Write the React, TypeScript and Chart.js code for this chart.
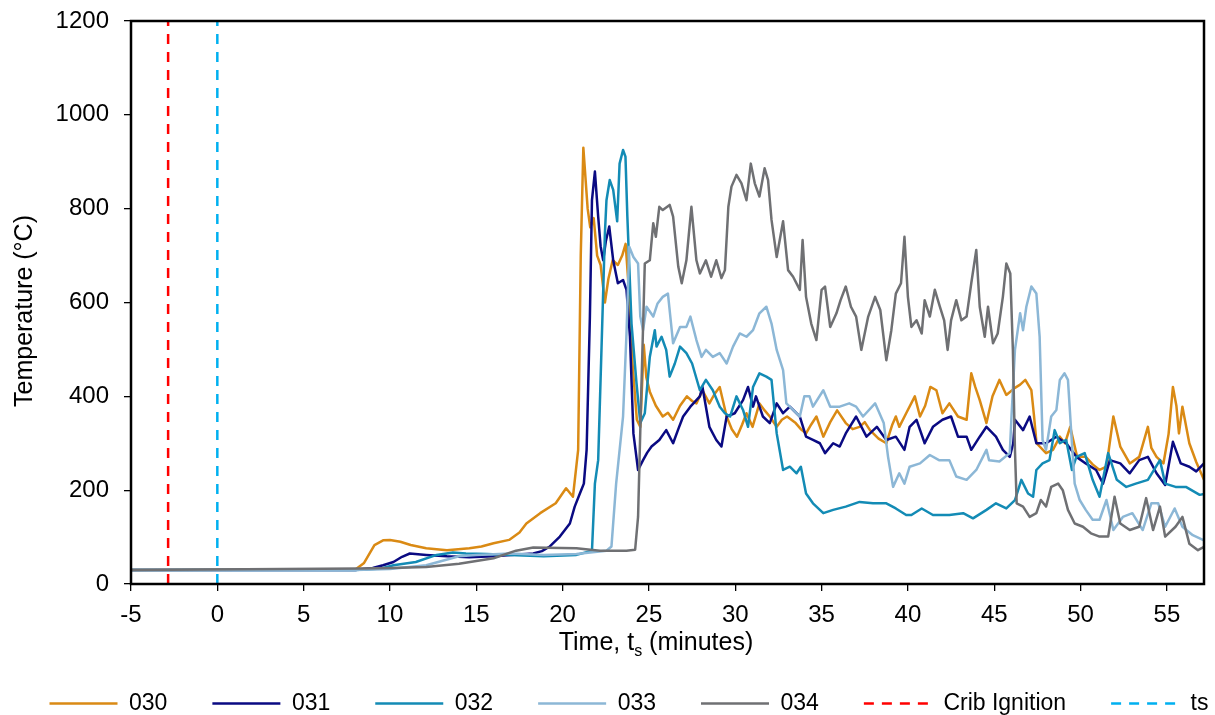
import React, { useEffect, useRef } from "react";
import { Chart, registerables } from "chart.js";

Chart.register(...registerables);

// ---------- data (time in minutes, temperature in °C) ----------
const SERIES_NAMES = ["030", "031", "032", "033", "034"];

const S030: [number, number][] = [
  [-5, 30], [8.0, 31], [8.5, 45], [9.1, 83], [9.6, 93], [10.0, 94], [10.6, 90], [11.2, 83], [12.1, 76], [13.3, 72],
  [14.6, 76], [15.3, 80], [16.0, 87], [16.9, 94], [17.5, 110], [17.9, 129], [18.7, 151], [19.6, 172], [20.2, 204], [20.6, 186],
  [20.9, 286], [21.05, 700], [21.2, 930], [21.45, 800], [21.6, 760], [21.8, 780], [22.0, 700], [22.2, 680], [22.45, 600], [22.65, 650],
  [22.9, 690], [23.2, 680], [23.45, 700], [23.65, 725], [23.85, 620], [24.05, 470], [24.3, 350], [24.5, 335], [24.7, 510], [24.85, 440],
  [25.05, 410], [25.4, 380], [25.8, 357], [26.1, 365], [26.4, 350], [26.8, 380], [27.2, 400], [27.5, 390], [27.75, 385], [28.1, 413],
  [28.5, 385], [28.8, 405], [29.1, 420], [29.5, 357], [29.8, 330], [30.1, 314], [30.4, 340], [30.65, 364], [31.0, 335], [31.4, 385],
  [31.7, 370], [32.0, 357], [32.4, 335], [32.7, 350], [33.0, 357], [33.5, 343], [33.8, 330], [34.1, 321], [34.4, 340], [34.7, 357],
  [35.1, 314], [35.5, 345], [35.9, 370], [36.4, 343], [36.8, 330], [37.2, 335], [37.5, 345], [37.8, 328], [38.3, 310], [38.75, 300],
  [39.1, 340], [39.3, 357], [39.5, 335], [39.9, 364], [40.4, 400], [40.7, 357], [41.0, 380], [41.3, 420], [41.65, 413], [42.0, 364],
  [42.4, 385], [42.9, 357], [43.4, 350], [43.67, 449], [43.9, 420], [44.16, 392], [44.55, 343], [44.9, 400], [45.3, 435], [45.7, 403],
  [46.2, 418], [46.5, 425], [46.8, 435], [47.15, 413], [47.3, 360], [47.45, 300], [48.0, 279], [48.4, 286], [48.8, 314], [49.1, 300],
  [49.4, 335], [49.8, 271], [50.3, 271], [50.7, 255], [51.1, 243], [51.5, 250], [51.9, 357], [52.3, 293], [52.85, 257], [53.4, 271],
  [53.9, 335], [54.1, 290], [54.4, 271], [54.8, 257], [55.1, 320], [55.35, 420], [55.55, 380], [55.7, 321], [55.9, 378], [56.3, 300],
  [56.7, 260], [57.15, 222],
];

const S031: [number, number][] = [
  [-5, 30], [8.0, 30], [9.0, 34], [9.6, 40], [10.2, 47], [10.7, 58], [11.15, 65], [12.1, 62], [13.3, 59], [14.6, 57],
  [16.0, 59], [17.0, 62], [18.3, 65], [18.8, 70], [19.26, 80], [19.84, 101], [20.42, 129], [20.7, 165], [21.0, 193], [21.23, 214],
  [21.39, 286], [21.58, 570], [21.7, 818], [21.87, 879], [22.06, 783], [22.2, 720], [22.35, 690], [22.5, 730], [22.7, 762], [22.93, 690],
  [23.2, 641], [23.5, 648], [23.7, 627], [23.9, 527], [24.1, 321], [24.37, 243], [24.66, 264], [24.9, 280], [25.15, 293], [25.6, 307],
  [26.0, 328], [26.4, 300], [26.7, 330], [26.98, 357], [27.4, 378], [27.95, 400], [28.1, 420], [28.5, 335], [28.9, 307], [29.2, 293],
  [29.5, 357], [29.97, 364], [30.45, 392], [30.74, 420], [31.03, 378], [31.2, 400], [31.6, 357], [32.0, 343], [32.4, 385], [32.77, 364],
  [33.16, 378], [33.74, 357], [34.1, 314], [34.5, 307], [34.9, 300], [35.2, 279], [35.67, 300], [36.05, 293], [36.4, 321], [37.0, 357],
  [37.6, 314], [38.2, 335], [38.75, 307], [39.3, 314], [39.8, 286], [40.1, 335], [40.5, 350], [40.97, 300], [41.45, 335], [42.0, 350],
  [42.5, 357], [42.9, 314], [43.4, 314], [43.67, 286], [44.16, 314], [44.55, 335], [45.1, 314], [45.5, 286], [45.9, 271], [46.1, 300],
  [46.2, 350], [46.67, 328], [47.05, 357], [47.44, 300], [48.0, 300], [48.6, 314], [49.17, 300], [49.76, 271], [50.3, 257], [50.9, 243],
  [51.3, 214], [51.7, 264], [52.3, 257], [52.85, 236], [53.4, 264], [53.9, 271], [54.4, 236], [54.9, 211], [55.35, 303], [55.8, 257],
  [56.3, 250], [56.7, 240], [57.15, 257],
];

const S032: [number, number][] = [
  [-5, 30], [8.0, 30], [9.5, 33], [10.2, 40], [11.5, 47], [12.7, 62], [13.65, 67], [14.4, 65], [15.6, 64], [16.95, 62],
  [18.9, 59], [20.8, 62], [21.7, 71], [21.87, 214], [22.06, 264], [22.25, 499], [22.45, 748], [22.54, 818], [22.73, 861], [22.93, 840],
  [23.16, 773], [23.3, 896], [23.5, 925], [23.64, 911], [23.75, 783], [23.99, 555], [24.28, 428], [24.5, 343], [24.76, 364], [25.05, 484],
  [25.34, 541], [25.44, 506], [25.73, 527], [26.0, 499], [26.2, 442], [26.5, 470], [26.8, 506], [27.17, 492], [27.5, 470], [27.95, 413],
  [28.3, 435], [28.7, 413], [29.1, 378], [29.4, 364], [29.7, 357], [30.07, 400], [30.45, 371], [30.74, 335], [31.03, 420], [31.4, 449],
  [31.8, 442], [32.1, 435], [32.4, 321], [32.77, 243], [33.16, 250], [33.55, 236], [33.8, 250], [34.1, 193], [34.5, 172], [35.1, 151],
  [35.67, 158], [36.4, 165], [37.2, 175], [37.98, 172], [38.75, 172], [39.3, 161], [39.9, 147], [40.2, 147], [40.8, 161], [41.45, 147],
  [42.4, 147], [43.2, 151], [43.77, 140], [44.55, 158], [45.1, 172], [45.7, 161], [46.2, 179], [46.57, 222], [46.96, 193], [47.25, 186],
  [47.44, 243], [47.8, 257], [48.2, 264], [48.5, 328], [48.8, 300], [49.17, 307], [49.5, 243], [49.76, 271], [50.24, 279], [50.7, 222],
  [51.1, 186], [51.6, 279], [52.1, 222], [52.65, 207], [53.2, 214], [53.9, 222], [54.6, 264], [54.9, 214], [55.5, 207], [56.1, 207],
  [56.9, 190], [57.15, 192],
];

const S033: [number, number][] = [
  [-5, 30], [8.0, 30], [10.0, 32], [12.1, 40], [14.0, 59], [15.0, 62], [17.0, 65], [18.9, 62], [20.8, 64], [22.54, 71],
  [22.83, 80], [23.1, 214], [23.5, 357], [23.7, 534], [23.86, 719], [24.1, 697], [24.37, 683], [24.5, 570], [24.66, 541], [24.86, 591],
  [25.25, 570], [25.5, 598], [25.8, 612], [26.1, 619], [26.4, 513], [26.8, 548], [27.17, 548], [27.4, 570], [27.75, 520], [28.05, 484],
  [28.3, 499], [28.7, 484], [29.1, 492], [29.5, 470], [29.87, 506], [30.26, 534], [30.65, 527], [31.03, 541], [31.4, 577], [31.8, 591],
  [32.1, 555], [32.4, 499], [32.77, 456], [32.96, 385], [33.35, 371], [33.74, 357], [34.0, 400], [34.3, 400], [34.5, 378], [35.1, 413],
  [35.5, 378], [36.05, 378], [36.6, 385], [37.0, 378], [37.4, 357], [38.1, 385], [38.6, 343], [38.85, 271], [39.14, 207], [39.5, 236],
  [39.8, 214], [40.1, 250], [40.7, 257], [41.27, 275], [41.8, 264], [42.4, 264], [42.8, 229], [43.4, 222], [43.96, 243], [44.55, 286],
  [44.7, 264], [45.3, 261], [45.9, 279], [46.0, 357], [46.2, 499], [46.5, 577], [46.67, 541], [46.86, 591], [47.15, 634], [47.44, 619],
  [47.63, 527], [47.8, 307], [48.0, 286], [48.3, 357], [48.6, 371], [48.8, 435], [49.07, 449], [49.27, 435], [49.5, 300], [49.66, 214],
  [49.95, 179], [50.3, 158], [50.7, 137], [51.1, 137], [51.5, 179], [51.9, 115], [52.45, 143], [53.0, 151], [53.6, 115], [54.1, 172],
  [54.5, 172], [54.9, 122], [55.45, 161], [55.9, 122], [56.5, 104], [57.15, 93],
];

const S034: [number, number][] = [
  [-5, 30], [8.26, 33], [10.0, 34], [12.1, 36], [14.0, 43], [16.0, 55], [17.3, 71], [18.3, 78], [19.06, 77], [20.8, 76],
  [22.16, 71], [23.7, 71], [24.2, 73], [24.37, 143], [24.57, 428], [24.76, 683], [25.05, 690], [25.25, 769], [25.4, 740], [25.6, 804],
  [25.8, 797], [26.2, 808], [26.4, 783], [26.7, 676], [26.9, 641], [27.17, 690], [27.46, 804], [27.75, 690], [27.95, 662], [28.3, 690],
  [28.6, 655], [28.9, 690], [29.2, 652], [29.4, 669], [29.6, 804], [29.78, 847], [30.07, 872], [30.36, 854], [30.65, 818], [30.9, 896],
  [31.13, 854], [31.4, 826], [31.7, 886], [31.9, 861], [32.1, 776], [32.4, 697], [32.77, 773], [33.06, 669], [33.35, 655], [33.74, 627],
  [33.9, 733], [34.1, 612], [34.4, 555], [34.7, 520], [35.0, 627], [35.2, 634], [35.5, 548], [35.86, 577], [36.1, 605], [36.4, 634],
  [36.7, 591], [37.0, 570], [37.3, 499], [37.7, 570], [38.1, 612], [38.4, 584], [38.75, 477], [39.04, 541], [39.3, 619], [39.6, 641],
  [39.8, 740], [40.0, 612], [40.2, 548], [40.5, 562], [40.8, 534], [40.97, 605], [41.27, 570], [41.56, 627], [41.85, 591], [42.1, 562],
  [42.3, 499], [42.5, 562], [42.8, 605], [43.1, 562], [43.4, 570], [43.67, 641], [43.96, 712], [44.16, 591], [44.45, 527], [44.64, 591],
  [44.93, 513], [45.2, 534], [45.5, 612], [45.7, 683], [45.93, 662], [46.08, 499], [46.2, 286], [46.3, 172], [46.67, 165], [47.05, 143],
  [47.44, 151], [47.7, 179], [48.0, 165], [48.3, 207], [48.7, 214], [48.97, 200], [49.27, 158], [49.66, 129], [50.14, 122], [50.6, 108],
  [51.1, 101], [51.6, 101], [51.97, 186], [52.3, 129], [52.85, 115], [53.4, 122], [53.8, 183], [54.2, 115], [54.6, 165], [54.9, 101],
  [55.5, 122], [55.9, 143], [56.3, 86], [56.8, 72], [57.15, 79],
];

const CRIB_IGNITION_TIME = -2.85;
const TS_TIME = 0;
const X_MIN = -5;
const X_MAX = 57.15;
const X_STEP = 5;
const Y_MIN = 0;
const Y_MAX = 1200;
const Y_STEP = 200;

// ---------- styling ----------
const FONT = "'Liberation Sans', Arial, Helvetica, sans-serif";
const SERIES_COLORS = ["#DA8A14", "#0A0A82", "#138BB5", "#8CB7D6", "#6F7073"];
const CRIB_COLOR = "#FF0000";
const TS_COLOR = "#00B0F0";

const toPoints = (s: [number, number][]) => s.map(([x, y]) => ({ x, y }));

const frameAndTitles = {
  id: "frameAndTitles",
  afterDraw(chart: any) {
    const { ctx, chartArea: a } = chart;
    ctx.save();
    // plot frame
    ctx.strokeStyle = "#000";
    ctx.lineWidth = 2.5;
    ctx.setLineDash([]);
    ctx.strokeRect(a.left, a.top, a.right - a.left, a.bottom - a.top);

    ctx.fillStyle = "#000";
    // y-axis title
    ctx.save();
    ctx.font = `25px ${FONT}`;
    ctx.translate(a.left - 99, a.top + 290);
    ctx.rotate(-Math.PI / 2);
    ctx.textAlign = "center";
    ctx.textBaseline = "alphabetic";
    ctx.fillText("Temperature (°C)", 0, 0);
    ctx.restore();

    // x-axis title with subscript
    const main = `25px ${FONT}`;
    const sub = `16px ${FONT}`;
    const p1 = "Time, t";
    const p2 = "s";
    const p3 = " (minutes)";
    ctx.font = main;
    const w1 = ctx.measureText(p1).width;
    const w3 = ctx.measureText(p3).width;
    ctx.font = sub;
    const w2 = ctx.measureText(p2).width;
    const total = w1 + w2 + w3;
    const cx = a.left + 525;
    const by = a.bottom + 66;
    let x = cx - total / 2;
    ctx.textAlign = "left";
    ctx.textBaseline = "alphabetic";
    ctx.font = main;
    ctx.fillText(p1, x, by);
    x += w1;
    ctx.font = sub;
    ctx.fillText(p2, x, by + 6);
    x += w2;
    ctx.font = main;
    ctx.fillText(p3, x, by);
    ctx.restore();
  },
};

export default function App() {
  const canvasRef = useRef<HTMLCanvasElement | null>(null);

  useEffect(() => {
    if (!canvasRef.current) return;
    Chart.defaults.font.family = FONT;
    Chart.defaults.color = "#000";

    const seriesData = [S030, S031, S032, S033, S034];
    const datasets: any[] = seriesData.map((s, i) => ({
      label: SERIES_NAMES[i],
      data: toPoints(s),
      borderColor: SERIES_COLORS[i],
      backgroundColor: SERIES_COLORS[i],
      borderWidth: 2.5,
      pointRadius: 0,
      tension: 0,
      borderJoinStyle: "round",
      order: 10 - i,
    }));
    datasets.push({
      label: "Crib Ignition",
      data: [
        { x: CRIB_IGNITION_TIME, y: Y_MIN },
        { x: CRIB_IGNITION_TIME, y: Y_MAX },
      ],
      borderColor: CRIB_COLOR,
      backgroundColor: CRIB_COLOR,
      borderWidth: 2.5,
      borderDash: [10, 8],
      pointRadius: 0,
      order: 2,
    });
    datasets.push({
      label: "ts",
      data: [
        { x: TS_TIME, y: Y_MIN },
        { x: TS_TIME, y: Y_MAX },
      ],
      borderColor: TS_COLOR,
      backgroundColor: TS_COLOR,
      borderWidth: 2.5,
      borderDash: [10, 8],
      pointRadius: 0,
      order: 1,
    });

    const defaultLabels = (Chart.defaults as any).plugins.legend.labels.generateLabels;

    const chart = new Chart(canvasRef.current, {
      type: "line",
      data: { datasets },
      plugins: [frameAndTitles],
      options: {
        animation: false,
        responsive: false,
        maintainAspectRatio: false,
        parsing: false as any,
        layout: { padding: { left: -30, right: -73, top: 21, bottom: 0 } },
        plugins: {
          tooltip: { enabled: false },
          title: { display: false },
          legend: {
            display: true,
            position: "bottom",
            maxHeight: 68,
            labels: {
              usePointStyle: true,
              pointStyle: "line",
              pointStyleWidth: 68,
              padding: 45,
              color: "#000",
              font: { size: 23, family: FONT },
              sort: (a: any, b: any) => a.datasetIndex - b.datasetIndex,
              generateLabels: (c: any) =>
                defaultLabels(c).map((l: any) => {
                  const ds = c.data.datasets[l.datasetIndex];
                  return {
                    ...l,
                    strokeStyle: ds.borderColor,
                    fillStyle: ds.borderColor,
                    lineWidth: ds.borderWidth,
                    lineDash: ds.borderDash || [],
                    pointStyle: "line",
                  };
                }),
            },
          },
        },
        scales: {
          x: {
            type: "linear",
            min: X_MIN,
            max: X_MAX,
            afterFit: (s: any) => {
              s.height = 63;
              s.paddingLeft = 0;
              s.paddingRight = 0;
            },
            ticks: {
              stepSize: X_STEP,
              includeBounds: false,
              font: { size: 24, family: FONT },
              color: "#000",
              padding: 10,
              maxRotation: 0,
              autoSkip: false,
              callback: (v: any) => String(v),
            },
            grid: {
              display: true,
              drawOnChartArea: false,
              drawTicks: true,
              tickLength: 7,
              color: "#000",
              lineWidth: 1.3,
            },
            border: { display: false },
          },
          y: {
            type: "linear",
            min: Y_MIN,
            max: Y_MAX,
            afterFit: (s: any) => {
              s.width = 161;
              s.paddingTop = 0;
              s.paddingBottom = 0;
            },
            ticks: {
              stepSize: Y_STEP,
              font: { size: 24, family: FONT },
              color: "#000",
              padding: 15,
              callback: (v: any) => String(v),
            },
            grid: {
              display: true,
              drawOnChartArea: false,
              drawTicks: true,
              tickLength: 7,
              color: "#000",
              lineWidth: 1.3,
            },
            border: { display: false },
          },
          y2: {
            type: "linear",
            position: "right",
            display: true,
            afterFit: (s: any) => {
              s.width = 84;
              s.paddingTop = 0;
              s.paddingBottom = 0;
            },
            ticks: { display: false },
            grid: { display: false },
            border: { display: false },
          },
        },
      },
    });
    return () => chart.destroy();
  }, []);

  return (
    <div style={{ position: "fixed", left: 0, top: 0, width: 1215, height: 715, background: "#fff" }}>
      <canvas ref={canvasRef} width={1215} height={715} style={{ width: 1215, height: 715, display: "block" }} />
    </div>
  );
}
